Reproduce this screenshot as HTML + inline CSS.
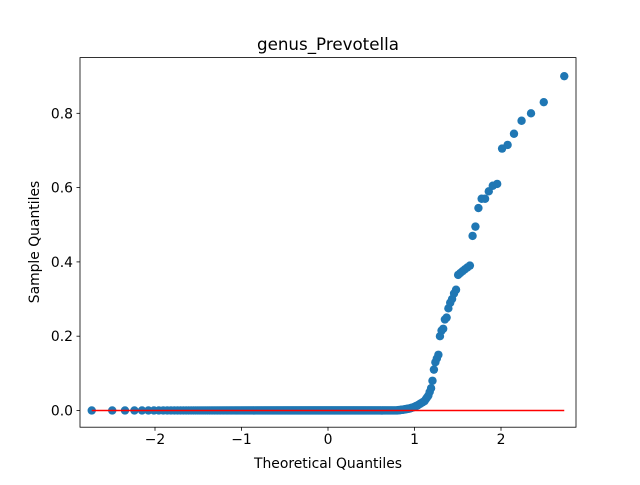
<!DOCTYPE html>
<html><head><meta charset="utf-8"><style>
body{margin:0;background:#fff;}
svg text{font-family:"DejaVu Sans","Liberation Sans",sans-serif;fill:#000;}
</style></head><body>
<svg id="chart" width="640" height="480" xmlns="http://www.w3.org/2000/svg"></svg>
<script>
const zeroCount = 250;
const smallValues = [0.001,0.001,0.001,0.002,0.002,0.002,0.003,0.003,0.004,0.004,0.005,0.005,0.006,0.007,0.008,0.009,0.010,0.012,0.013,0.015,0.017,0.019,0.021,0.023,0.025];
const upperValues = [0.03,0.035,0.04,0.05,0.06,0.08,0.11,0.13,0.14,0.15,0.20,0.215,0.22,0.245,0.25,0.275,0.29,0.30,0.315,0.325,0.365,0.37,0.375,0.38,0.385,0.39,0.47,0.495,0.545,0.57,0.57,0.59,0.605,0.61,0.705,0.715,0.745,0.78,0.80,0.83,0.90];
const xTicks = [-2,-1,0,1,2];
const yTicks = [0.0,0.2,0.4,0.6,0.8];
const yTickLabels = ["0.0","0.2","0.4","0.6","0.8"];

const svg = document.getElementById('chart');
const NS = 'http://www.w3.org/2000/svg';
const L=80,R=576,T=57.6,B=427.2;
const xMin=-2.867,xMax=2.867,yMin=-0.045,yMax=0.95;
const sx=v=>L+(v-xMin)/(xMax-xMin)*(R-L);
const sy=v=>B-(v-yMin)/(yMax-yMin)*(B-T);
function mk(tag,attrs){const e=document.createElementNS(NS,tag);for(const k in attrs)e.setAttribute(k,attrs[k]);svg.appendChild(e);return e;}
function invNorm(p){
  const a=[-39.6968302866538,220.946098424521,-275.928510446969,138.357751867269,-30.6647980661472,2.50662827745924];
  const b=[-54.4760987982241,161.585836858041,-155.698979859887,66.8013118877197,-13.2806815528857];
  const c=[-0.00778489400243029,-0.322396458041136,-2.40075827716184,-2.54973253934373,4.37466414146497,2.93816398269878];
  const d=[0.00778469570904146,0.32246712907004,2.445134137143,3.75440866190742];
  let q,r;
  if(p<0.02425){q=Math.sqrt(-2*Math.log(p));return(((((c[0]*q+c[1])*q+c[2])*q+c[3])*q+c[4])*q+c[5])/((((d[0]*q+d[1])*q+d[2])*q+d[3])*q+1);}
  if(p>1-0.02425){q=Math.sqrt(-2*Math.log(1-p));return-(((((c[0]*q+c[1])*q+c[2])*q+c[3])*q+c[4])*q+c[5])/((((d[0]*q+d[1])*q+d[2])*q+d[3])*q+1);}
  q=p-0.5;r=q*q;return(((((a[0]*r+a[1])*r+a[2])*r+a[3])*r+a[4])*r+a[5])*q/(((((b[0]*r+b[1])*r+b[2])*r+b[3])*r+b[4])*r+1);
}
const sample = new Array(zeroCount).fill(0).concat(smallValues, upperValues);
const n = sample.length;
const theo = sample.map((_,i)=>invNorm((i+1)/(n+1)));

const frame=mk('rect',{x:L,y:T,width:R-L,height:B-T,fill:'none',stroke:'#000','stroke-width':0.8});



sample.forEach((v,i)=>{
  const c=mk('circle',{cx:sx(theo[i]),cy:sy(v),r:4.2,fill:'#1f77b4'});
  
  
});
const ln=mk('line',{x1:sx(theo[0]),y1:sy(0),x2:sx(theo[n-1]),y2:sy(0),stroke:'#ff0000','stroke-width':1.5});



xTicks.forEach(t=>{
  const x=sx(t);
  mk('line',{x1:x,y1:B,x2:x,y2:B+3.5,stroke:'#000','stroke-width':0.8});
  const tx=mk('text',{x:x,y:B+17,'text-anchor':'middle','font-size':'13.9'});
  tx.textContent=(t<0?'\u2212'+(-t):''+t);
  
  
});
yTicks.forEach((t,i)=>{
  const y=sy(t);
  mk('line',{x1:L,y1:y,x2:L-3.5,y2:y,stroke:'#000','stroke-width':0.8});
  const tx=mk('text',{x:L-7,y:y+5,'text-anchor':'end','font-size':'13.9'});
  tx.textContent=yTickLabels[i];
  
  
});
const title=mk('text',{x:(L+R)/2,y:50,'text-anchor':'middle','font-size':'16.7'});
title.textContent='genus_Prevotella';


const xl=mk('text',{x:(L+R)/2,y:468,'text-anchor':'middle','font-size':'13.9'});
xl.textContent='Theoretical Quantiles';


const yl=mk('text',{x:0,y:0,'text-anchor':'middle','font-size':'13.9',transform:'translate(39,242) rotate(-90)'});
yl.textContent='Sample Quantiles';


</script>
</body></html>
